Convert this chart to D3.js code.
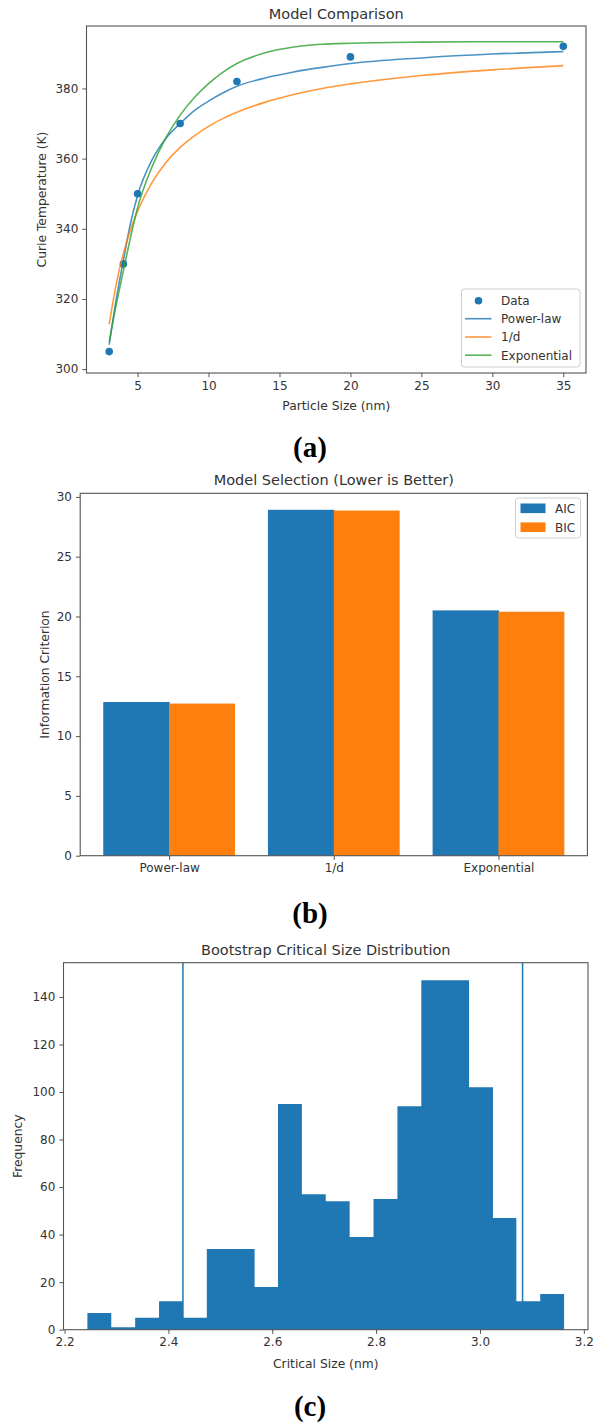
<!DOCTYPE html>
<html><head><meta charset="utf-8">
<script src="https://cdn.jsdelivr.net/npm/d3@7/dist/d3.min.js"></script>
<style>
html,body{margin:0;padding:0;background:#fff;}
svg{display:block;}
</style></head>
<body>
<script>
// ---------- Data ----------
// Panel (a)
const particleSizes = [3, 4, 5, 8, 12, 20, 35];
const curieTemps = [305, 330, 350, 370, 382, 389, 392];
const fitSizes = [3, 3.5, 4, 4.5, 5, 6, 7, 8, 9, 10, 11, 12, 14, 16, 18, 20, 25, 30, 35];
const powerLawFit = [307, 320, 331, 341.5, 349.5, 359.5, 365.8, 370, 373.7, 376.4, 378.7, 380.6, 383, 384.7, 386, 387.1, 388.7, 389.8, 390.5];
const inverseDFit = [312.8, 324.3, 333.0, 339.7, 345.0, 353.1, 358.9, 363.2, 366.5, 369.2, 371.4, 373.2, 376.1, 378.3, 380.0, 381.3, 383.7, 385.3, 386.5];
const exponentialFit = [307.8, 318.5, 328, 337.5, 346, 357.5, 366, 372.4, 377.4, 381.4, 384.6, 387.1, 390.2, 391.8, 392.6, 392.9, 393.2, 393.3, 393.3];
const xTicksA = [5, 10, 15, 20, 25, 30, 35];
const yTicksA = [300, 320, 340, 360, 380];

// Panel (b)
const models = ["Power-law", "1/d", "Exponential"];
const aicValues = [12.85, 28.92, 20.51];
const bicValues = [12.72, 28.86, 20.40];
const yTicksB = [0, 5, 10, 15, 20, 25, 30];

// Panel (c)
const binEdges = [2.244, 2.290, 2.336, 2.382, 2.428, 2.474, 2.520, 2.566, 2.611, 2.657, 2.703, 2.749, 2.795, 2.841, 2.887, 2.933, 2.979, 3.025, 3.070, 3.116, 3.162];
const binCounts = [7, 1, 5, 12, 5, 34, 34, 18, 95, 57, 54, 39, 55, 94, 147, 147, 102, 47, 12, 15];
const ciBounds = [2.428, 3.082];
const xTicksC = [2.2, 2.4, 2.6, 2.8, 3.0, 3.2];
const yTicksC = [0, 20, 40, 60, 80, 100, 120, 140];

// ---------- Style ----------
const C_BLUE = "#1f77b4", C_ORANGE = "#ff7f0e", C_GREEN = "#2ca02c";
const FONT = "DejaVu Sans, sans-serif";
const TXT = "#333";
const SPINE = "#555";

const svg = d3.select("body").append("svg").attr("width", 595).attr("height", 1425)
  .style("background", "#fff");

function frame(g, x0, x1, y0, y1) {
  g.append("rect").attr("x", x0).attr("y", y0).attr("width", x1 - x0).attr("height", y1 - y0)
    .attr("fill", "none").attr("stroke", SPINE).attr("stroke-width", 1.1);
}
function styleAxis(sel) {
  sel.select(".domain").remove();
  sel.selectAll("line").attr("stroke", SPINE).attr("stroke-width", 1);
  sel.selectAll("text").attr("fill", TXT).style("font-family", FONT).style("font-size", "12px");
}
function text(g, x, y, s, size, opts = {}) {
  const t = g.append("text").attr("x", x).attr("y", y).text(s)
    .attr("text-anchor", opts.anchor || "middle")
    .attr("fill", opts.fill || TXT)
    .style("font-family", opts.family || FONT)
    .style("font-size", size + "px");
  if (opts.weight) t.style("font-weight", opts.weight);
  if (opts.rotate) t.attr("transform", `rotate(-90,${x},${y})`);
  return t;
}

// ---------- Panel (a) ----------
{
  const g = svg.append("g");
  const L = 86.5, R = 586, T = 26, B = 373;
  const x = d3.scaleLinear([1.4, 36.6], [L, R]);
  const y = d3.scaleLinear([298.9, 397.8], [B, T]);

  const line = d3.line().x(d => x(d[0])).y(d => y(d[1])).curve(d3.curveMonotoneX);
  const series = [
    {name: "Power-law", vals: powerLawFit, color: C_BLUE},
    {name: "1/d", vals: inverseDFit, color: C_ORANGE},
    {name: "Exponential", vals: exponentialFit, color: C_GREEN}
  ];
  g.append("clipPath").attr("id", "clipA").append("rect")
    .attr("x", L).attr("y", T).attr("width", R - L).attr("height", B - T);
  const plot = g.append("g").attr("clip-path", "url(#clipA)");
  plot.selectAll("circle").data(particleSizes).join("circle")
    .attr("cx", d => x(d)).attr("cy", (d, i) => y(curieTemps[i])).attr("r", 3.8)
    .attr("fill", C_BLUE);
  series.forEach(s => {
    plot.append("path").datum(fitSizes.map((d, i) => [d, s.vals[i]]))
      .attr("d", line).attr("fill", "none").attr("stroke", s.color)
      .attr("stroke-width", 1.6).attr("stroke-opacity", 0.8);
  });

  g.append("g").attr("transform", `translate(0,${B})`)
    .call(d3.axisBottom(x).tickValues(xTicksA).tickSize(4.2).tickPadding(4).tickFormat(d3.format("d")))
    .call(styleAxis);
  g.append("g").attr("transform", `translate(${L},0)`)
    .call(d3.axisLeft(y).tickValues(yTicksA).tickSize(4.2).tickPadding(4).tickFormat(d3.format("d")))
    .call(styleAxis);
  frame(g, L, R, T, B);

  text(g, (L + R) / 2, 19.3, "Model Comparison", 14.5);
  text(g, (L + R) / 2, 409.5, "Particle Size (nm)", 12.3);
  text(g, 46, (T + B) / 2, "Curie Temperature (K)", 12.3, {rotate: true});

  // legend
  const lg = g.append("g");
  lg.append("rect").attr("x", 461.5).attr("y", 289).attr("width", 118.5).attr("height", 78)
    .attr("rx", 3).attr("fill", "#fff").attr("fill-opacity", 0.8).attr("stroke", "#d0d0d0");
  const rows = [300.7, 318.7, 337, 355.2];
  lg.append("circle").attr("cx", 478.5).attr("cy", rows[0]).attr("r", 3.8).attr("fill", C_BLUE);
  text(lg, 501, rows[0] + 4.3, "Data", 12, {anchor: "start"});
  series.forEach((s, i) => {
    lg.append("line").attr("x1", 465).attr("x2", 491.5).attr("y1", rows[i + 1]).attr("y2", rows[i + 1])
      .attr("stroke", s.color).attr("stroke-width", 1.6).attr("stroke-opacity", 0.8);
    text(lg, 501, rows[i + 1] + 4.3, s.name, 12, {anchor: "start"});
  });

  text(g, 310, 456.5, "(a)", 29, {family: "Liberation Serif, Times New Roman, serif", weight: "bold", fill: "#000"});
}

// ---------- Panel (b) ----------
{
  const g = svg.append("g");
  const L = 80.2, R = 587.4, T = 493.3, B = 855.7;
  const x = d3.scaleLinear([-0.54, 2.54], [L, R]);
  const y = d3.scaleLinear([0, 30.3], [B, T]);
  const w = 0.4;
  g.selectAll("rect.aic").data(aicValues).join("rect").attr("class", "aic")
    .attr("x", (d, i) => x(i - w)).attr("width", (d, i) => x(i) - x(i - w) + 0.5)
    .attr("y", d => y(d)).attr("height", d => y(0) - y(d)).attr("fill", C_BLUE);
  g.selectAll("rect.bic").data(bicValues).join("rect").attr("class", "bic")
    .attr("x", (d, i) => x(i)).attr("width", (d, i) => x(i + w) - x(i))
    .attr("y", d => y(d)).attr("height", d => y(0) - y(d)).attr("fill", C_ORANGE);

  g.append("g").attr("transform", `translate(0,${B})`)
    .call(d3.axisBottom(x).tickValues([0, 1, 2]).tickSize(4.2).tickPadding(4).tickFormat(i => models[i]))
    .call(styleAxis);
  g.append("g").attr("transform", `translate(${L},0)`)
    .call(d3.axisLeft(y).tickValues(yTicksB).tickSize(4.2).tickPadding(4).tickFormat(d3.format("d")))
    .call(styleAxis);
  frame(g, L, R, T, B);

  text(g, (L + R) / 2, 485, "Model Selection (Lower is Better)", 14.5);
  text(g, 49, (T + B) / 2, "Information Criterion", 12.3, {rotate: true});

  const lg = g.append("g");
  lg.append("rect").attr("x", 515.5).attr("y", 498).attr("width", 65).attr("height", 40)
    .attr("rx", 3).attr("fill", "#fff").attr("fill-opacity", 0.8).attr("stroke", "#d0d0d0");
  [["AIC", C_BLUE, 508.3], ["BIC", C_ORANGE, 527.2]].forEach(([n, c, cy]) => {
    lg.append("rect").attr("x", 520.5).attr("y", cy - 4.8).attr("width", 25).attr("height", 9.6).attr("fill", c);
    text(lg, 555, cy + 4.3, n, 12, {anchor: "start"});
  });

  text(g, 310, 923, "(b)", 29, {family: "Liberation Serif, Times New Roman, serif", weight: "bold", fill: "#000"});
}

// ---------- Panel (c) ----------
{
  const g = svg.append("g");
  const L = 63.5, R = 588, T = 962.7, B = 1329.7;
  const x = d3.scaleLinear([2.198, 3.208], [L, R]);
  const y = d3.scaleLinear([0, 154.4], [B, T]);
  // draw as one outline path to avoid seams between bins
  const area = d3.area().x(d => x(d[0])).y0(y(0)).y1(d => y(d[1])).curve(d3.curveStepAfter);
  const stepData = binEdges.map((e, i) => [e, i < binCounts.length ? binCounts[i] : binCounts[binCounts.length - 1]]);
  g.append("path").datum(stepData).attr("d", area).attr("fill", C_BLUE);
  g.selectAll("line.ci").data(ciBounds).join("line").attr("class", "ci")
    .attr("x1", d => x(d)).attr("x2", d => x(d)).attr("y1", T).attr("y2", B)
    .attr("stroke", C_BLUE).attr("stroke-width", 1.5);

  g.append("g").attr("transform", `translate(0,${B})`)
    .call(d3.axisBottom(x).tickValues(xTicksC).tickSize(4.2).tickPadding(4).tickFormat(d3.format(".1f")))
    .call(styleAxis);
  g.append("g").attr("transform", `translate(${L},0)`)
    .call(d3.axisLeft(y).tickValues(yTicksC).tickSize(4.2).tickPadding(4).tickFormat(d3.format("d")))
    .call(styleAxis);
  frame(g, L, R, T, B);

  text(g, (L + R) / 2, 955, "Bootstrap Critical Size Distribution", 14.5);
  text(g, (L + R) / 2, 1367.5, "Critical Size (nm)", 12.3);
  text(g, 22, (T + B) / 2, "Frequency", 12.3, {rotate: true});

  text(g, 310, 1416, "(c)", 29, {family: "Liberation Serif, Times New Roman, serif", weight: "bold", fill: "#000"});
}
</script>
</body></html>
